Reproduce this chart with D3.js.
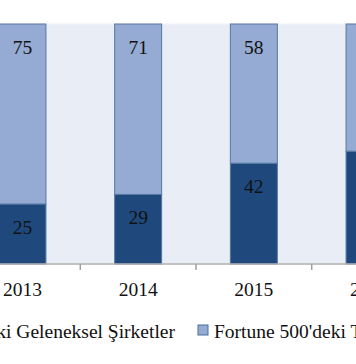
<!DOCTYPE html>
<html><head><meta charset="utf-8">
<script src="https://cdn.jsdelivr.net/npm/d3@7/dist/d3.min.js"></script>
<style>html,body{margin:0;padding:0;background:#fff;overflow:hidden}</style>
</head><body>
<svg id="c" width="356" height="364"></svg>
<script>
const years = ["2013","2014","2015","2016"];
const traditional = [25, 29, 42, 47];
const technology = [75, 71, 58, 53];
const seriesNames = ["Fortune 500'deki Geleneksel Şirketler", "Fortune 500'deki Teknoloji Şirketleri"];

const svg = d3.select("#c");
const font = "'Liberation Serif', 'DejaVu Serif', serif";
const fs = 19.5;
const plot = {left: -35.4, right: 427.4, top: 24, bottom: 264};

const x = d3.scaleBand().domain(years).range([plot.left, plot.right]).paddingInner(0.594).paddingOuter(0.297);
const y = d3.scaleLinear().domain([0, 100]).range([plot.bottom, plot.top]);

svg.append("rect").attr("x", plot.left).attr("y", plot.top)
  .attr("width", plot.right - plot.left).attr("height", plot.bottom - plot.top)
  .attr("fill", "#e9edf6").attr("stroke", "#f2f4f9");

const data = years.map((yr, i) => ({yr, a: traditional[i], b: technology[i]}));

const g = svg.append("g");
g.selectAll(".dark").data(data).join("rect")
  .attr("x", d => x(d.yr)).attr("width", x.bandwidth())
  .attr("y", d => y(d.a)).attr("height", d => y(0) - y(d.a))
  .attr("fill", "#1f497d").attr("stroke", "#5678a3").attr("stroke-width", 1);
g.selectAll(".light").data(data).join("rect")
  .attr("x", d => x(d.yr)).attr("width", x.bandwidth())
  .attr("y", d => y(d.a + d.b)).attr("height", d => y(d.a) - y(d.a + d.b))
  .attr("fill", "#95abd3").attr("stroke", "#5678a3").attr("stroke-width", 1);

g.selectAll(".la").data(data).join("text")
  .attr("x", d => x(d.yr) + x.bandwidth()/2).attr("y", d => y(d.a) + 30)
  .attr("text-anchor", "middle").attr("font-family", font).attr("font-size", fs)
  .attr("fill", "#111").text(d => d.a);
g.selectAll(".lb").data(data).join("text")
  .attr("x", d => x(d.yr) + x.bandwidth()/2).attr("y", d => y(d.a + d.b) + 30)
  .attr("text-anchor", "middle").attr("font-family", font).attr("font-size", fs)
  .attr("fill", "#111").text(d => d.b);

const ax = svg.append("g").attr("transform", `translate(0,${plot.bottom})`);
ax.append("line").attr("x1", plot.left).attr("x2", plot.right).attr("stroke", "#b0b0b0").attr("stroke-width", 1.5);
const bounds = years.map(yr => x(yr) - x.step()*x.paddingInner()/2).concat([x(years[years.length-1]) + x.bandwidth() + x.step()*x.paddingInner()/2]);
ax.selectAll(".tk").data(bounds).join("line")
  .attr("x1", d => d).attr("x2", d => d).attr("y1", 0).attr("y2", 6)
  .attr("stroke", "#a0a0a0").attr("stroke-width", 1.5);
ax.selectAll(".tl").data(years).join("text")
  .attr("x", d => x(d) + x.bandwidth()/2).attr("y", 32)
  .attr("text-anchor", "middle").attr("font-family", font).attr("font-size", fs)
  .attr("fill", "#111").text(d => d);

const leg = svg.append("g").attr("transform", "translate(0,338)");
const legColors = ["#1f497d", "#95abd3"];
const legX = [-160, 198];
seriesNames.forEach((name, i) => {
  leg.append("rect").attr("class", "m" + i).attr("x", legX[i]).attr("y", -13).attr("width", 10).attr("height", 10)
    .attr("fill", legColors[i]).attr("stroke", "#4a6d9c");
  leg.append("text").attr("class", "t" + i).attr("x", legX[i] + 16).attr("y", 0)
    .attr("font-family", font).attr("font-size", fs).attr("fill", "#111").text(name);
});
// first legend entry is positioned so its text ends at ~175px
const t0 = leg.select(".t0");
const w0 = t0.node().getComputedTextLength();
const start0 = 175 - w0 - 16;
leg.select(".m0").attr("x", start0);
t0.attr("x", start0 + 16);
</script>
</body></html>
